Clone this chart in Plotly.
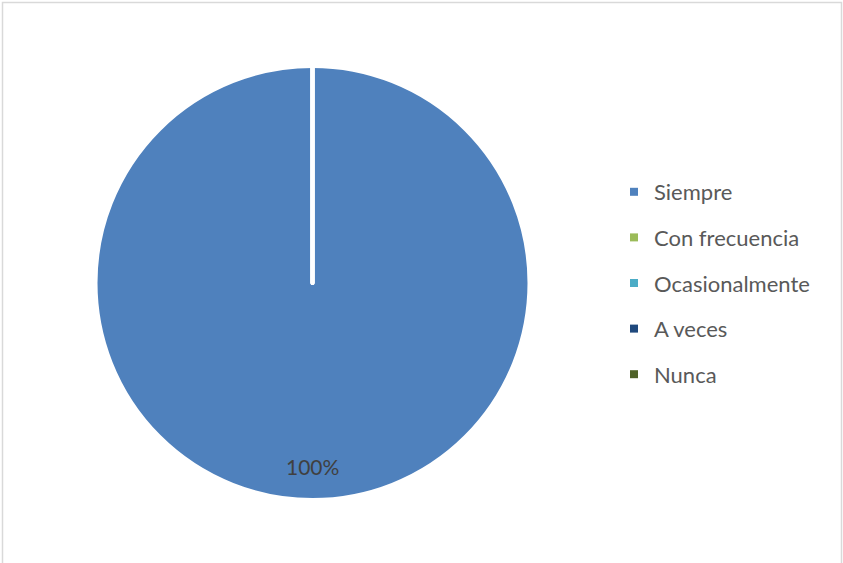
import plotly.graph_objects as go

# Survey answer categories and their counts
categories = ["Siempre", "Con frecuencia", "Ocasionalmente", "A veces", "Nunca"]
counts = [100, 0, 0, 0, 0]
colors = ["#4F81BD", "#9BBB59", "#4BACC6", "#1F497D", "#4F6228"]

W, H = 843, 563
cx, cy, r = 312.5, 283, 217  # pie centre / radius in pixels (from top-left)

fig = go.Figure()

fig.add_trace(go.Pie(
    labels=categories,
    values=counts,
    marker=dict(colors=colors, line=dict(color="white", width=4)),
    sort=False,
    direction="clockwise",
    rotation=0,
    textinfo="none",
    hoverinfo="label+percent",
    showlegend=False,
    domain=dict(x=[(cx - r) / W, (cx + r) / W],
                y=[(H - cy - r) / H, (H - cy + r) / H]),
))

# Legend entries, one group each so they can be spaced apart
for name, col in zip(categories, colors):
    fig.add_trace(go.Scatter(
        x=[None], y=[None], mode="markers", name=name, legendgroup=name,
        marker=dict(symbol="square", size=8, color=col),
        showlegend=True,
    ))

total = sum(counts)
share = round(100 * counts[0] / total)
fig.add_annotation(
    x=cx / W, y=(H - 466) / H, xref="paper", yref="paper",
    xanchor="center", yanchor="middle",
    text=f"{share}%", showarrow=False,
    font=dict(family="Lato", size=21, color="#404040"),
)

# Thin chart-area frame (pixel coordinates on hidden axes)
fig.add_shape(type="path", xref="x", yref="y",
              path=f"M 2.5 {H+5} L 2.5 2.5 L 841.5 2.5 L 841.5 {H+5}",
              line=dict(color="#D9D9D9", width=1.5))

fig.update_layout(
    width=W, height=H,
    margin=dict(l=0, r=0, t=0, b=0),
    paper_bgcolor="white", plot_bgcolor="rgba(0,0,0,0)",
    xaxis=dict(visible=False, range=[0, W], domain=[0, 1], fixedrange=True),
    yaxis=dict(visible=False, range=[H, 0], domain=[0, 1], fixedrange=True),
    legend=dict(
        x=614 / W, y=(H - 171) / H, xanchor="left", yanchor="top",
        font=dict(family="Lato", size=22, color="#595959"),
        tracegroupgap=14, bgcolor="rgba(0,0,0,0)",
    ),
    font=dict(family="Lato"),
)

fig.write_html("out.html")
